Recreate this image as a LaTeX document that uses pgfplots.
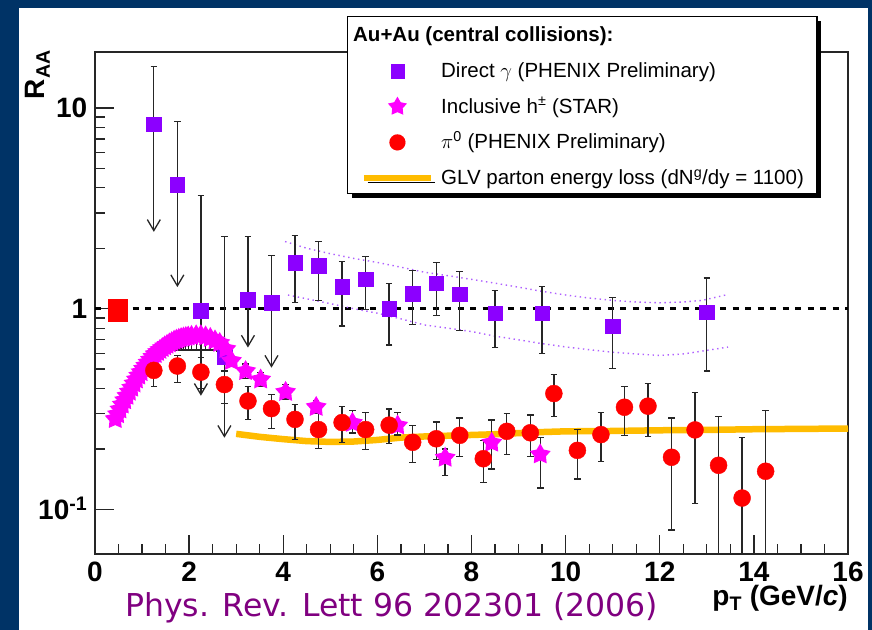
\documentclass[border=0pt]{standalone}
\usepackage{pgfplots}
\pgfplotsset{compat=1.18}
\usepackage{pgfplotstable}
\usepackage{fontspec}
\setmainfont{Liberation Sans}
\newfontfamily\dejavu{DejaVu Sans}
\usetikzlibrary{shadows}

\definecolor{bgblue}{RGB}{0,51,102}
\definecolor{gcol}{RGB}{140,0,255}
\definecolor{scol}{RGB}{255,0,255}
\definecolor{pcol}{RGB}{255,0,0}
\definecolor{glv}{RGB}{255,188,0}
\definecolor{bandc}{RGB}{175,95,255}
\definecolor{refc}{RGB}{128,0,128}

\pgfdeclareplotmark{fstar}{%
  \pgfpathmoveto{\pgfpointpolar{90}{\pgfplotmarksize}}%
  \pgfpathlineto{\pgfpointpolar{126}{0.55*\pgfplotmarksize}}%
  \pgfpathlineto{\pgfpointpolar{162}{\pgfplotmarksize}}%
  \pgfpathlineto{\pgfpointpolar{198}{0.55*\pgfplotmarksize}}%
  \pgfpathlineto{\pgfpointpolar{234}{\pgfplotmarksize}}%
  \pgfpathlineto{\pgfpointpolar{270}{0.55*\pgfplotmarksize}}%
  \pgfpathlineto{\pgfpointpolar{306}{\pgfplotmarksize}}%
  \pgfpathlineto{\pgfpointpolar{342}{0.55*\pgfplotmarksize}}%
  \pgfpathlineto{\pgfpointpolar{18}{\pgfplotmarksize}}%
  \pgfpathlineto{\pgfpointpolar{54}{0.55*\pgfplotmarksize}}%
  \pgfpathclose
  \pgfusepathqfill}
\pgfdeclareplotmark{uarrow}{%
  \pgfpathmoveto{\pgfpoint{-6.5bp}{11bp}}%
  \pgfpathlineto{\pgfpointorigin}%
  \pgfpathlineto{\pgfpoint{6.5bp}{11bp}}%
  \pgfusepathqstroke}

\pgfplotsset{
  ebars/.style={forget plot, only marks, mark=none,
    error bars/y explicit,
    error bars/error bar style={black!85, line width=1.3bp},
    error bars/error mark options={black!85, line width=1.3bp, mark size=3.3bp, rotate=90}},
}

% Direct photons, measured points
\pgfplotstableread{
x y hi lo
4.25 1.70 2.32 1.07
4.75 1.64 2.17 1.10
5.25 1.29 1.72 0.82
5.75 1.40 1.82 0.99
6.25 1.00 1.34 0.66
6.75 1.19 1.55 0.835
7.25 1.34 1.70 0.926
7.75 1.18 1.53 0.78
8.5 0.95 1.23 0.64
9.5 0.95 1.29 0.60
11.0 0.817 1.135 0.505
13.0 0.96 1.42 0.49
}\gammatab
% Direct photons, upper limits (lo = arrow tip)
\pgfplotstableread{
x y hi lo
1.25 8.3 16.1 2.45
1.75 4.16 8.57 1.30
2.25 0.98 3.67 0.374
2.75 0.575 2.29 0.231
3.25 1.11 2.29 0.65
3.75 1.07 1.84 0.516
}\gultab
% pi0
\pgfplotstableread{
x y hi lo
1.25 0.493 0.576 0.409
1.75 0.518 0.585 0.428
2.25 0.483 0.572 0.40
2.75 0.419 0.49 0.337
3.25 0.347 0.409 0.281
3.75 0.318 0.374 0.253
4.25 0.281 0.333 0.223
4.75 0.25 0.304 0.201
5.25 0.271 0.327 0.216
5.75 0.25 0.303 0.199
6.25 0.263 0.317 0.213
6.75 0.216 0.263 0.172
7.25 0.225 0.273 0.177
7.75 0.234 0.286 0.183
8.25 0.179 0.221 0.136
8.75 0.245 0.30 0.188
9.25 0.241 0.295 0.183
9.75 0.378 0.47 0.291
10.25 0.197 0.25 0.142
10.75 0.236 0.303 0.173
11.25 0.323 0.411 0.233
11.75 0.327 0.425 0.23
12.25 0.182 0.286 0.079
12.75 0.249 0.384 0.107
13.25 0.166 0.291 0.03
13.75 0.114 0.229 0.03
14.25 0.155 0.312 0.03
}\pitab
% STAR inclusive hadrons
\pgfplotstableread{
x y hi lo
0.43 0.282 0.297 0.268
0.48 0.298 0.313 0.283
0.53 0.315 0.331 0.299
0.58 0.333 0.350 0.316
0.63 0.350 0.368 0.333
0.68 0.368 0.386 0.350
0.73 0.386 0.405 0.367
0.78 0.404 0.424 0.384
0.83 0.424 0.445 0.403
0.88 0.444 0.466 0.422
0.93 0.464 0.487 0.441
0.98 0.483 0.507 0.459
1.03 0.502 0.527 0.477
1.08 0.520 0.546 0.494
1.13 0.539 0.566 0.512
1.18 0.557 0.585 0.529
1.23 0.576 0.605 0.547
1.28 0.594 0.624 0.564
1.33 0.609 0.640 0.579
1.38 0.623 0.654 0.592
1.43 0.637 0.669 0.605
1.48 0.650 0.683 0.610
1.53 0.661 0.694 0.615
1.58 0.672 0.706 0.620
1.63 0.682 0.716 0.622
1.68 0.693 0.728 0.622
1.73 0.701 0.736 0.622
1.78 0.708 0.743 0.622
1.83 0.714 0.750 0.622
1.88 0.719 0.755 0.622
1.93 0.723 0.759 0.622
1.98 0.727 0.763 0.622
2.05 0.732 0.768 0.622
2.15 0.737 0.773 0.622
2.25 0.738 0.774 0.622
2.35 0.728 0.764 0.622
2.45 0.715 0.751 0.622
2.55 0.695 0.730 0.622
2.65 0.675 0.709 0.610
2.78 0.630 0.661 0.590
2.90 0.550 0.580 0.520
3.20 0.489 0.530 0.450
3.52 0.444 0.480 0.410
4.05 0.385 0.420 0.355
4.70 0.324 0.350 0.300
5.47 0.270 0.310 0.240
6.43 0.262 0.305 0.235
7.44 0.181 0.200 0.148
8.43 0.215 0.279 0.159
9.46 0.188 0.228 0.128
}\startab

\begin{document}
\begin{tikzpicture}
\path[use as bounding box] (0bp,0bp) rectangle (872bp,630bp);
\fill[bgblue] (0bp,0bp) rectangle (872bp,630bp);
\fill[white] (19bp,0bp) rectangle (868bp,622bp);
\begin{axis}[
  at={(95bp,76bp)}, anchor=south west,
  scale only axis, width=753bp, height=502bp,
  xmin=0, xmax=16, ymin=0.06, ymax=19, ymode=log,
  axis line style={black!85, line width=1.4bp},
  tick style={black!85, line width=1.3bp},
  tick align=inside, xtick pos=bottom, ytick pos=left,
  major tick length=19bp, minor tick length=10bp,
  xtick={0,2,4,6,8,10,12,14,16},
  xticklabels={0,2,4,6,8,10,12,14,16},
  minor x tick num=3,
  ytick={0.1,1,10},
  yticklabels={10\textsuperscript{-1},1,10},
  ticklabel style={font=\bfseries\fontsize{28bp}{28bp}\selectfont, inner sep=0pt},
  xticklabel style={anchor=north, yshift=-8bp},
  yticklabel style={anchor=base east, xshift=-7.5bp, yshift=-10bp},
  label style={font=\bfseries\fontsize{28bp}{28bp}\selectfont, inner sep=0pt},
  xlabel={p\textsubscript{T} (GeV/\textit{c})},
  xlabel style={at={(axis description cs:1,-0.103)}, anchor=base east},
  ylabel={R\textsubscript{AA}},
  ylabel style={at={(axis description cs:-0.0664,1.004)}, anchor=base east},
  legend cell align=left,
  legend style={at={(axis description cs:0.3347,1.0717)}, anchor=north west,
    draw=black, line width=1.3bp, fill=white,
    inner xsep=13bp, inner ysep=0bp, column sep=7bp, row sep=1.75bp,
    font=\fontsize{20.5bp}{22bp}\selectfont,
    nodes={inner sep=0pt, text height=25bp, text depth=9bp},
    drop shadow={shadow xshift=4bp, shadow yshift=-4bp, opacity=1, fill=black}},
]
% reference line at 1
\addplot[forget plot, black, line width=3bp, dash pattern=on 6bp off 6.5bp] coordinates {(0,1) (16,1)};
% photon systematic band
\addplot[forget plot, bandc, line width=1.4bp, dash pattern=on 1.4bp off 3.6bp] coordinates {
(4.04,2.16) (4.5,2.0) (5,1.88) (5.5,1.78) (6,1.70) (6.5,1.61) (7,1.52) (7.5,1.46) (8,1.40) (8.5,1.34) (9,1.28) (9.5,1.22) (10,1.17) (10.5,1.13) (11,1.10) (11.5,1.08) (12,1.07) (12.5,1.08) (12.9,1.10) (13.4,1.17)};
\addplot[forget plot, bandc, line width=1.4bp, dash pattern=on 1.4bp off 3.6bp] coordinates {
(4.1,1.17) (4.5,1.12) (5,1.06) (5.5,1.00) (6,0.95) (6.5,0.89) (7,0.83) (7.5,0.80) (8,0.77) (8.5,0.73) (9,0.70) (9.5,0.67) (10,0.645) (10.5,0.625) (11,0.607) (11.5,0.595) (12,0.585) (12.5,0.595) (12.9,0.615) (13.45,0.644)};
% GLV
\addplot[forget plot, glv, line width=6.5bp] coordinates {
(3.0,0.238) (3.5,0.230) (4.0,0.224) (4.5,0.219) (5.0,0.217) (5.5,0.218) (6.0,0.222) (6.5,0.228) (7.0,0.231) (7.5,0.233) (8,0.235) (8.5,0.237) (9,0.240) (9.5,0.243) (10,0.245) (11,0.246) (12,0.248) (13,0.249) (14,0.251) (15,0.252) (16,0.253)};
% normalisation box
\addplot[forget plot, fill=pcol, draw=none] coordinates {(0.28,0.855) (0.70,0.855) (0.70,1.12) (0.28,1.12)};
% photon upper limits
\addplot[ebars, error bars/y dir=minus, error bars/error mark=none]
  table[x=x, y=y, y error minus expr=\thisrow{y}-\thisrow{lo}] {\gultab};
\addplot[forget plot, only marks, mark=uarrow, black!85, line width=1.3bp] table[x=x, y=lo] {\gultab};
\addplot[ebars, error bars/y dir=plus]
  table[x=x, y=y, y error plus expr=\thisrow{hi}-\thisrow{y}] {\gultab};
\addplot[forget plot, only marks, mark=square*, mark size=7.3bp, gcol] table[x=x, y=y] {\gultab};
% photon points
\addplot[ebars, error bars/y dir=both]
  table[x=x, y=y, y error plus expr=\thisrow{hi}-\thisrow{y}, y error minus expr=\thisrow{y}-\thisrow{lo}] {\gammatab};
\addplot[forget plot, only marks, mark=square*, mark size=7.3bp, gcol] table[x=x, y=y] {\gammatab};
% STAR hadrons
\addplot[ebars, error bars/y dir=both]
  table[x=x, y=y, y error plus expr=\thisrow{hi}-\thisrow{y}, y error minus expr=\thisrow{y}-\thisrow{lo}] {\startab};
\addplot[forget plot, only marks, mark=fstar, mark size=11bp, scol] table[x=x, y=y] {\startab};
% pi0
\addplot[ebars, error bars/y dir=both]
  table[x=x, y=y, y error plus expr=\thisrow{hi}-\thisrow{y}, y error minus expr=\thisrow{y}-\thisrow{lo}] {\pitab};
\addplot[forget plot, only marks, mark=*, mark size=8.5bp, pcol] table[x=x, y=y] {\pitab};

% legend
\addlegendimage{legend image code/.code={}}
\addlegendentry{\hspace*{-88bp}\textbf{Au+Au (central collisions):}}
\addlegendimage{legend image code/.code={\draw[only marks, mark=square*, mark size=6.8bp, gcol, line width=0.1bp] plot coordinates {(33.5bp,-1.5bp)};}}
\addlegendentry{Direct $\gamma$ (PHENIX Preliminary)}
\addlegendimage{legend image code/.code={\draw[only marks, mark=fstar, mark size=10bp, scol, line width=0.1bp] plot coordinates {(33.5bp,-1.5bp)};}}
\addlegendentry{Inclusive h\textsuperscript{±} (STAR)}
\addlegendimage{legend image code/.code={\draw[only marks, mark=*, mark size=8bp, pcol, line width=0.1bp] plot coordinates {(33.5bp,-1.5bp)};}}
\addlegendentry{$\pi$\textsuperscript{0} (PHENIX Preliminary)}
\addlegendimage{legend image code/.code={\draw[glv, line width=6.5bp] (0bp,-1.5bp) -- (67bp,-1.5bp);}}
\addlegendentry{GLV parton energy loss (dN\textsuperscript{g}/dy = 1100)}
\end{axis}
\node[anchor=base west, inner sep=0pt, text=refc, font=\dejavu\fontsize{31.5bp}{33bp}\selectfont] at (125bp,14bp) {Phys. Rev. Lett 96 202301 (2006)};
\end{tikzpicture}
\end{document}
